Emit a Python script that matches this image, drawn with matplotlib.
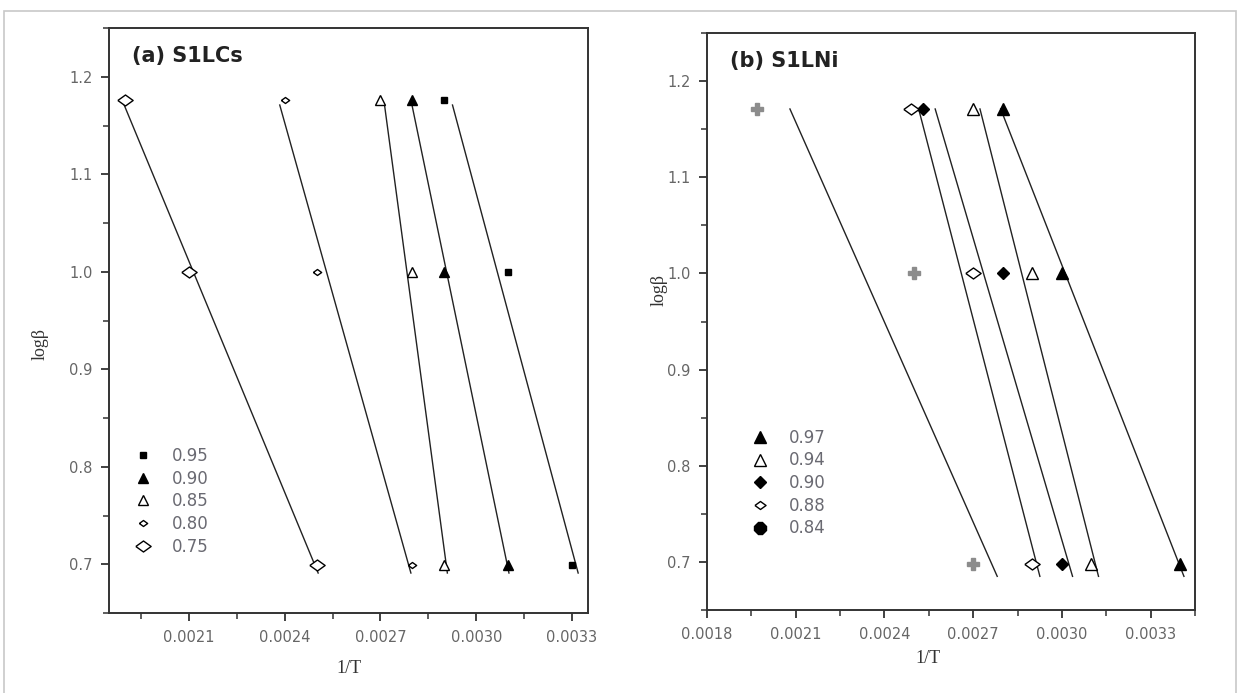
import matplotlib
matplotlib.use('Agg')
import matplotlib.pyplot as plt
import numpy as np
from matplotlib.lines import Line2D
from matplotlib.patches import Rectangle
from matplotlib.ticker import MultipleLocator, FormatStrFormatter

plt.rcParams['font.family'] = ['DejaVu Sans']

# panel (a) S1LCs : logB values and 1/T for each conversion
logb_a = [1.176, 1.0, 0.699]
labels_a = ['0.95', '0.90', '0.85', '0.80', '0.75']
invT_a = [
    [0.0029, 0.0031, 0.0033],
    [0.0028, 0.0029, 0.0031],
    [0.0027, 0.0028, 0.0029],
    [0.0024, 0.0025, 0.0028],
    [0.0019, 0.0021, 0.0025],
]

# panel (b) S1LNi
logb_b = [1.171, 1.0, 0.698]
labels_b = ['0.97', '0.94', '0.90', '0.88', '0.84']
invT_b = [
    [0.0028, 0.0030, 0.0034],
    [0.0027, 0.0029, 0.0031],
    [0.00253, 0.0028, 0.0030],
    [0.00249, 0.0027, 0.0029],
    [0.00197, 0.0025, 0.0027],
]

# wide diamond marker like the Origin one
wdiam = [(-1, 0), (0, 0.72), (1, 0), (0, -0.72), (-1, 0)]

style_a = [
    dict(marker='s', ms=5, mfc='black', mec='black'),
    dict(marker='^', ms=7, mfc='black', mec='black'),
    dict(marker='^', ms=7, mfc='white', mec='black', mew=1.0),
    dict(marker=wdiam, ms=6, mfc='white', mec='black', mew=1.0),
    dict(marker=wdiam, ms=11, mfc='white', mec='black', mew=1.0),
]
style_b = [
    dict(marker='^', ms=8, mfc='black', mec='black'),
    dict(marker='^', ms=8, mfc='white', mec='black', mew=1.0),
    dict(marker='D', ms=6.5, mfc='black', mec='black'),
    dict(marker=wdiam, ms=11, mfc='white', mec='black', mew=1.0),
    dict(marker='P', ms=9, mfc='#8c8c8c', mec='#8c8c8c'),
]
legend_b = list(style_b)
legend_b[3] = dict(marker=wdiam, ms=8, mfc='white', mec='black', mew=1.0)
legend_b[4] = dict(marker='8', ms=9, mfc='black', mec='black')

tick_col = '#666666'


def draw_panel(ax, logb, invT, styles, leg_styles, y_top_off, y_bot_off):
    y = np.array(logb)
    for xs, st in zip(invT, styles):
        xs = np.array(xs)
        # 1/T fitted against logB, drawn over the logB range
        b, a = np.polyfit(y, xs, 1)
        yy = np.array([y.max() - y_top_off, y.min() - y_bot_off])
        ax.plot(a + b * yy, yy, color='#222222', lw=1.0, zorder=2)
        ax.plot(xs, y, ls='none', zorder=3, **st)
    return [Line2D([], [], ls='none', **st) for st in leg_styles]


fig = plt.figure(figsize=(12.38, 6.93), dpi=100)
fig.add_artist(Rectangle((4 / 1238, -0.05), 1232 / 1238, 1.05 - 11 / 693,
                         transform=fig.transFigure, fill=False,
                         edgecolor='#c8c8c8', lw=1.2))

ax1 = fig.add_axes([109 / 1238, 1 - 613 / 693, 479 / 1238, 585 / 693])
ax2 = fig.add_axes([707 / 1238, 1 - 610 / 693, 488 / 1238, 577 / 693])

h1 = draw_panel(ax1, logb_a, invT_a, style_a, style_a, 0.005, 0.008)
h2 = draw_panel(ax2, logb_b, invT_b, style_b, legend_b, 0.0, 0.013)

for ax, xlim, title in [(ax1, (0.00185, 0.00335), '(a) S1LCs'),
                        (ax2, (0.0018, 0.00345), '(b) S1LNi')]:
    ax.set_xlim(*xlim)
    ax.set_ylim(0.65, 1.25)
    ax.xaxis.set_minor_locator(MultipleLocator(0.00015))
    ax.yaxis.set_major_locator(MultipleLocator(0.1))
    ax.yaxis.set_minor_locator(MultipleLocator(0.05))
    ax.yaxis.set_major_formatter(FormatStrFormatter('%.1f'))
    ax.tick_params(which='major', direction='out', length=6, width=1.3,
                   labelsize=10.5, labelcolor=tick_col, color='#333333', pad=6)
    ax.tick_params(which='minor', direction='out', length=4, width=1.1, color='#333333')
    for sp in ax.spines.values():
        sp.set_linewidth(1.4)
        sp.set_color('#333333')
    ax.text(0.048, 0.952, title, transform=ax.transAxes, fontsize=15,
            fontweight='bold', color='#222222', va='center', ha='left')
    ax.set_xlabel('1/T', family='Liberation Serif', fontsize=13, color='#333333')
    ax.set_ylabel('log\u03b2', family='Liberation Serif', fontsize=13, color='#333333')

ax1.set_xticks(np.arange(0.0021, 0.00331, 0.0003))
ax2.set_xticks(np.arange(0.0018, 0.00331, 0.0003))
ax1.xaxis.set_major_formatter(FormatStrFormatter('%.4f'))
ax2.xaxis.set_major_formatter(FormatStrFormatter('%.4f'))

ax1.xaxis.set_label_coords(0.5, -0.08)
ax1.yaxis.set_label_coords(-0.125, 0.46)
ax2.xaxis.set_label_coords(0.453, -0.069)
ax2.yaxis.set_label_coords(-0.08, 0.555)

leg_kw = dict(frameon=False, loc='upper left', fontsize=12, handlelength=1.0,
              handletextpad=1.2, labelspacing=0.28, borderpad=0, borderaxespad=0,
              labelcolor='#6a6a72')
ax1.legend(h1, labels_a, bbox_to_anchor=(0.054, 0.284), **leg_kw)
ax2.legend(h2, labels_b, bbox_to_anchor=(0.092, 0.314), **leg_kw)

fig.savefig('out.png', dpi=100)
